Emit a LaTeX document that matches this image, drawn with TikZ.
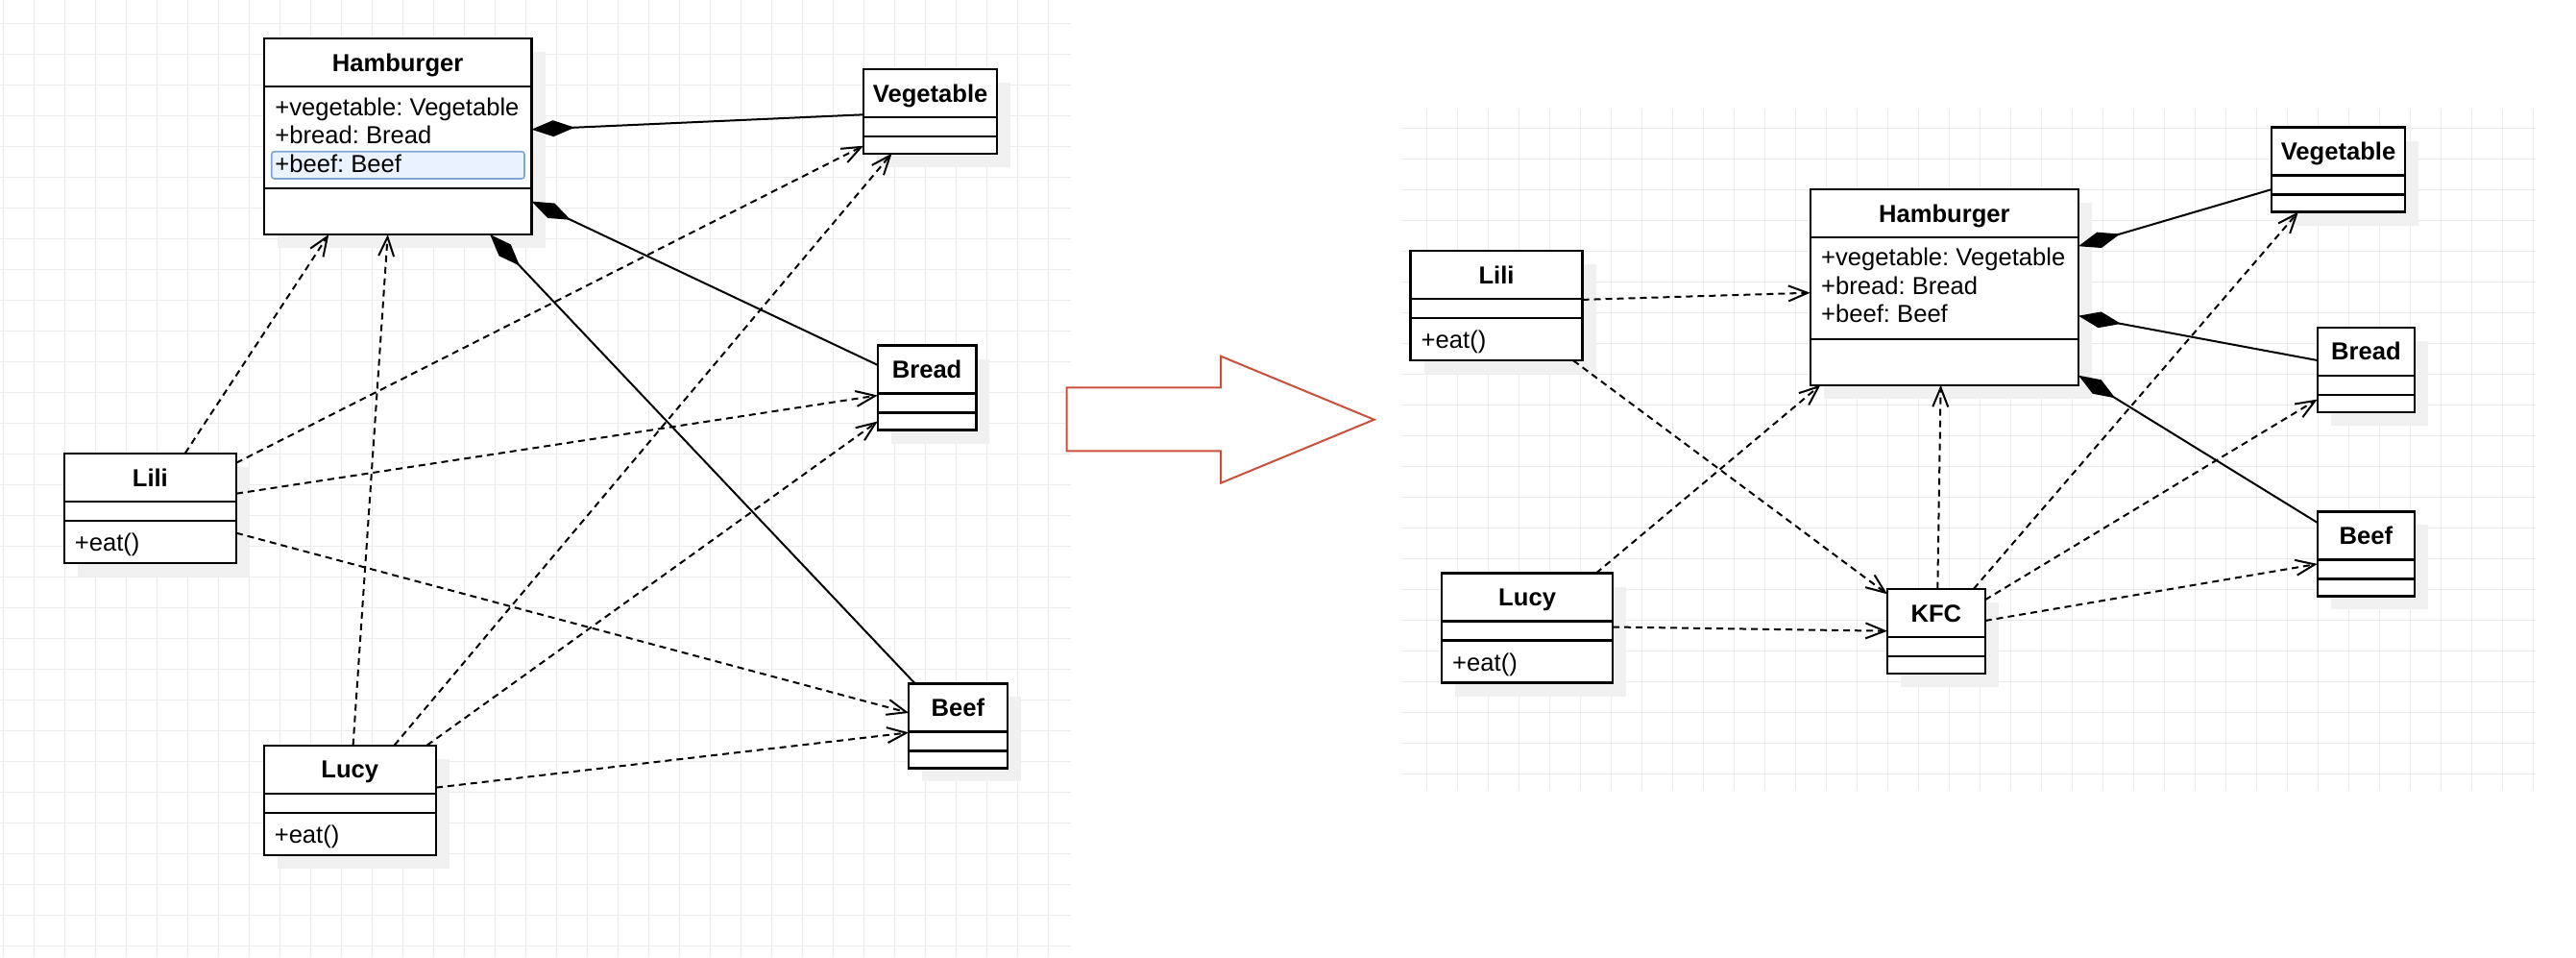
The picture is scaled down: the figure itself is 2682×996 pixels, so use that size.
\documentclass[tikz,border=0pt]{standalone}
\usepackage{fontspec}
\setmainfont{Liberation Sans}
\usetikzlibrary{arrows.meta,calc,shadows}
\frenchspacing

\definecolor{gridcol}{HTML}{EBEBEB}
\definecolor{shadowcol}{HTML}{F0F0F0}
\definecolor{arrowred}{HTML}{C9513C}
\definecolor{selfill}{HTML}{EAF3FD}
\definecolor{seldraw}{HTML}{7FA7D2}

\tikzset{
  classbox/.style={draw, line width=2.2pt, fill=white, anchor=north west,
    inner sep=0pt, outer sep=0pt,
    drop shadow={shadow xshift=14pt, shadow yshift=-14pt, fill=shadowcol, opacity=1}},
  classrule/.style={line width=2.2pt},
  classtitle/.style={anchor=base, inner sep=0pt,
    font=\fontsize{25.6pt}{29.5pt}\selectfont\bfseries},
  member/.style={anchor=base west, inner sep=0pt,
    font=\fontsize{25.6pt}{29.5pt}\selectfont},
  dep/.style={line width=2pt, dash pattern=on 7pt off 5pt,
    -{Straight Barb[length=20pt,width=16pt]}},
  comp/.style={line width=2pt, -{Diamond[length=45pt,width=17pt]}},
  gridline/.style={gridcol, line width=1pt},
  selected/.style={fill=selfill, draw=seldraw, line width=1.6pt, rounded corners=3pt},
  bigarrow/.style={draw=arrowred, fill=white, line width=2pt, line join=miter},
}

% class box: name, north-west corner, width, height, second rule offset, title
\newcommand\umlclass[6]{%
  \node[classbox, minimum width=#3pt, minimum height=#4pt] (#1) at (#2) {};
  \draw[classrule] ($(#1.north west)+(0,50)$) -- ($(#1.north east)+(0,50)$);
  \draw[classrule] ($(#1.north west)+(0,#5)$) -- ($(#1.north east)+(0,#5)$);
  \node[classtitle] (#1-title) at ($(#1.north)+(0,34.3)$) {#6};
}

\begin{document}
\begin{tikzpicture}[x=1pt,y=-1pt]
\useasboundingbox (0,0) rectangle (2682,996);

% background grids
\foreach \i in {0,...,34} \draw[gridline] (3.3+32*\i,0) -- (3.3+32*\i,996);
\foreach \j in {0,...,30} \draw[gridline] (0,24+32*\j) -- (1115,24+32*\j);
\foreach \i in {0,...,36} \draw[gridline] (1485.3+32*\i,113.3) -- (1485.3+32*\i,823.3);
\foreach \j in {0,...,21} \draw[gridline] (1459.3,133+32*\j) -- (2640,133+32*\j);

% ---------- before: Lili and Lucy depend on every ingredient ----------
\umlclass{hamL}{274.7,40}{278.8}{204}{156}{Hamburger}
\node[member] (hamL-m1) at ($(hamL.north west)+(11.5,80)$) {+vegetable: Vegetable};
\node[member] (hamL-m2) at ($(hamL.north west)+(11.5,109.5)$) {+bread: Bread};
\draw[selected] ($(hamL.north west)+(8,117.7)$) rectangle ($(hamL.north west)+(271.3,146)$);
\node[member] (hamL-m3) at ($(hamL.north west)+(11.5,139)$) {+beef: Beef};

\umlclass{vegL}{899,71.7}{139.3}{88}{70}{Vegetable}
\umlclass{breadL}{913.8,359.5}{102.6}{88}{70}{Bread}
\umlclass{beefL}{946.2,711.4}{102.4}{88}{70}{Beef}

\umlclass{liliL}{66.7,471.7}{179.3}{114}{70}{Lili}
\node[member] (liliL-m1) at ($(liliL.north west)+(11,101.5)$) {+eat()};
\umlclass{lucyL}{274.6,775.6}{179.4}{114}{70}{Lucy}
\node[member] (lucyL-m1) at ($(lucyL.north west)+(11,101.5)$) {+eat()};

\draw[comp] ($(vegL.north west)+(0,47.6)$) -- ($(hamL.north east)+(0,94.7)$);
\draw[comp] ($(breadL.north west)+(0,20.4)$) -- ($(hamL.north east)+(0,169.6)$);
\draw[comp] ($(beefL.north west)+(6.5,0)$) -- ($(hamL.south west)+(235.5,0)$);

\draw[dep] ($(liliL.north west)+(126,0)$) -- ($(hamL.south west)+(67.6,0)$);
\draw[dep] ($(liliL.north east)+(0,10)$) -- ($(vegL.north west)+(0,80)$);
\draw[dep] ($(liliL.north east)+(0,42)$) -- ($(breadL.north west)+(0,52)$);
\draw[dep] ($(liliL.north east)+(0,83)$) -- ($(beefL.north west)+(0,30.5)$);
\draw[dep] ($(lucyL.north west)+(93,0)$) -- ($(hamL.south west)+(129,0)$);
\draw[dep] ($(lucyL.north west)+(136,0)$) -- ($(vegL.south west)+(29.5,0)$);
\draw[dep] ($(lucyL.north west)+(170,0)$) -- ($(breadL.north west)+(0,79)$);
\draw[dep] ($(lucyL.north east)+(0,44)$) -- ($(beefL.north west)+(0,51)$);

% ---------- transition arrow ----------
\draw[bigarrow] (1110.7,403.3) -- (1271,403.3) -- (1271,370.7) -- (1430.7,436.7)
  -- (1271,502.7) -- (1271,469.3) -- (1110.7,469.3) -- cycle;

% ---------- after: KFC in between ----------
\umlclass{hamR}{1884.7,196.7}{279.3}{204}{156}{Hamburger}
\node[member] (hamR-m1) at ($(hamR.north west)+(11.3,80)$) {+vegetable: Vegetable};
\node[member] (hamR-m2) at ($(hamR.north west)+(11.3,109.5)$) {+bread: Bread};
\node[member] (hamR-m3) at ($(hamR.north west)+(11.3,139)$) {+beef: Beef};

\umlclass{vegR}{2365.2,132.5}{138.6}{88}{70}{Vegetable}
\umlclass{breadR}{2412.7,340.6}{101.4}{88}{70}{Bread}
\umlclass{beefR}{2412.7,532.4}{101.4}{88}{70}{Beef}
\umlclass{kfcR}{1965,612.7}{101.7}{88}{70}{KFC}

\umlclass{liliR}{1468.5,261.2}{179}{114}{70}{Lili}
\node[member] (liliR-m1) at ($(liliR.north west)+(11,101.5)$) {+eat()};
\umlclass{lucyR}{1501,596.5}{178.2}{114}{70}{Lucy}
\node[member] (lucyR-m1) at ($(lucyR.north west)+(11,101.5)$) {+eat()};

\draw[comp] ($(vegR.north west)+(0,64.6)$) -- ($(hamR.north east)+(0,59.5)$);
\draw[comp] ($(breadR.north west)+(0,34.4)$) -- ($(hamR.north east)+(0,132)$);
\draw[comp] ($(beefR.north west)+(0,11.5)$) -- ($(hamR.north east)+(0,194)$);

\draw[dep] ($(liliR.north east)+(0,50.7)$) -- ($(hamR.north west)+(0,108)$);
\draw[dep] ($(liliR.south east)+(-9.5,0)$) -- ($(kfcR.north west)+(0,5.6)$);
\draw[dep] ($(lucyR.north west)+(160.8,0)$) -- ($(hamR.south west)+(10.7,0)$);
\draw[dep] ($(lucyR.north east)+(0,56)$) -- ($(kfcR.north west)+(0,44)$);
\draw[dep] ($(kfcR.north west)+(52.3,0)$) -- ($(hamR.south west)+(135.9,0)$);
\draw[dep] ($(kfcR.north west)+(90,0)$) -- ($(vegR.south west)+(27.7,0)$);
\draw[dep] ($(kfcR.north east)+(0,11.6)$) -- ($(breadR.north west)+(0,75)$);
\draw[dep] ($(kfcR.north east)+(0,33.3)$) -- ($(beefR.north west)+(0,54.5)$);
\end{tikzpicture}
\end{document}
